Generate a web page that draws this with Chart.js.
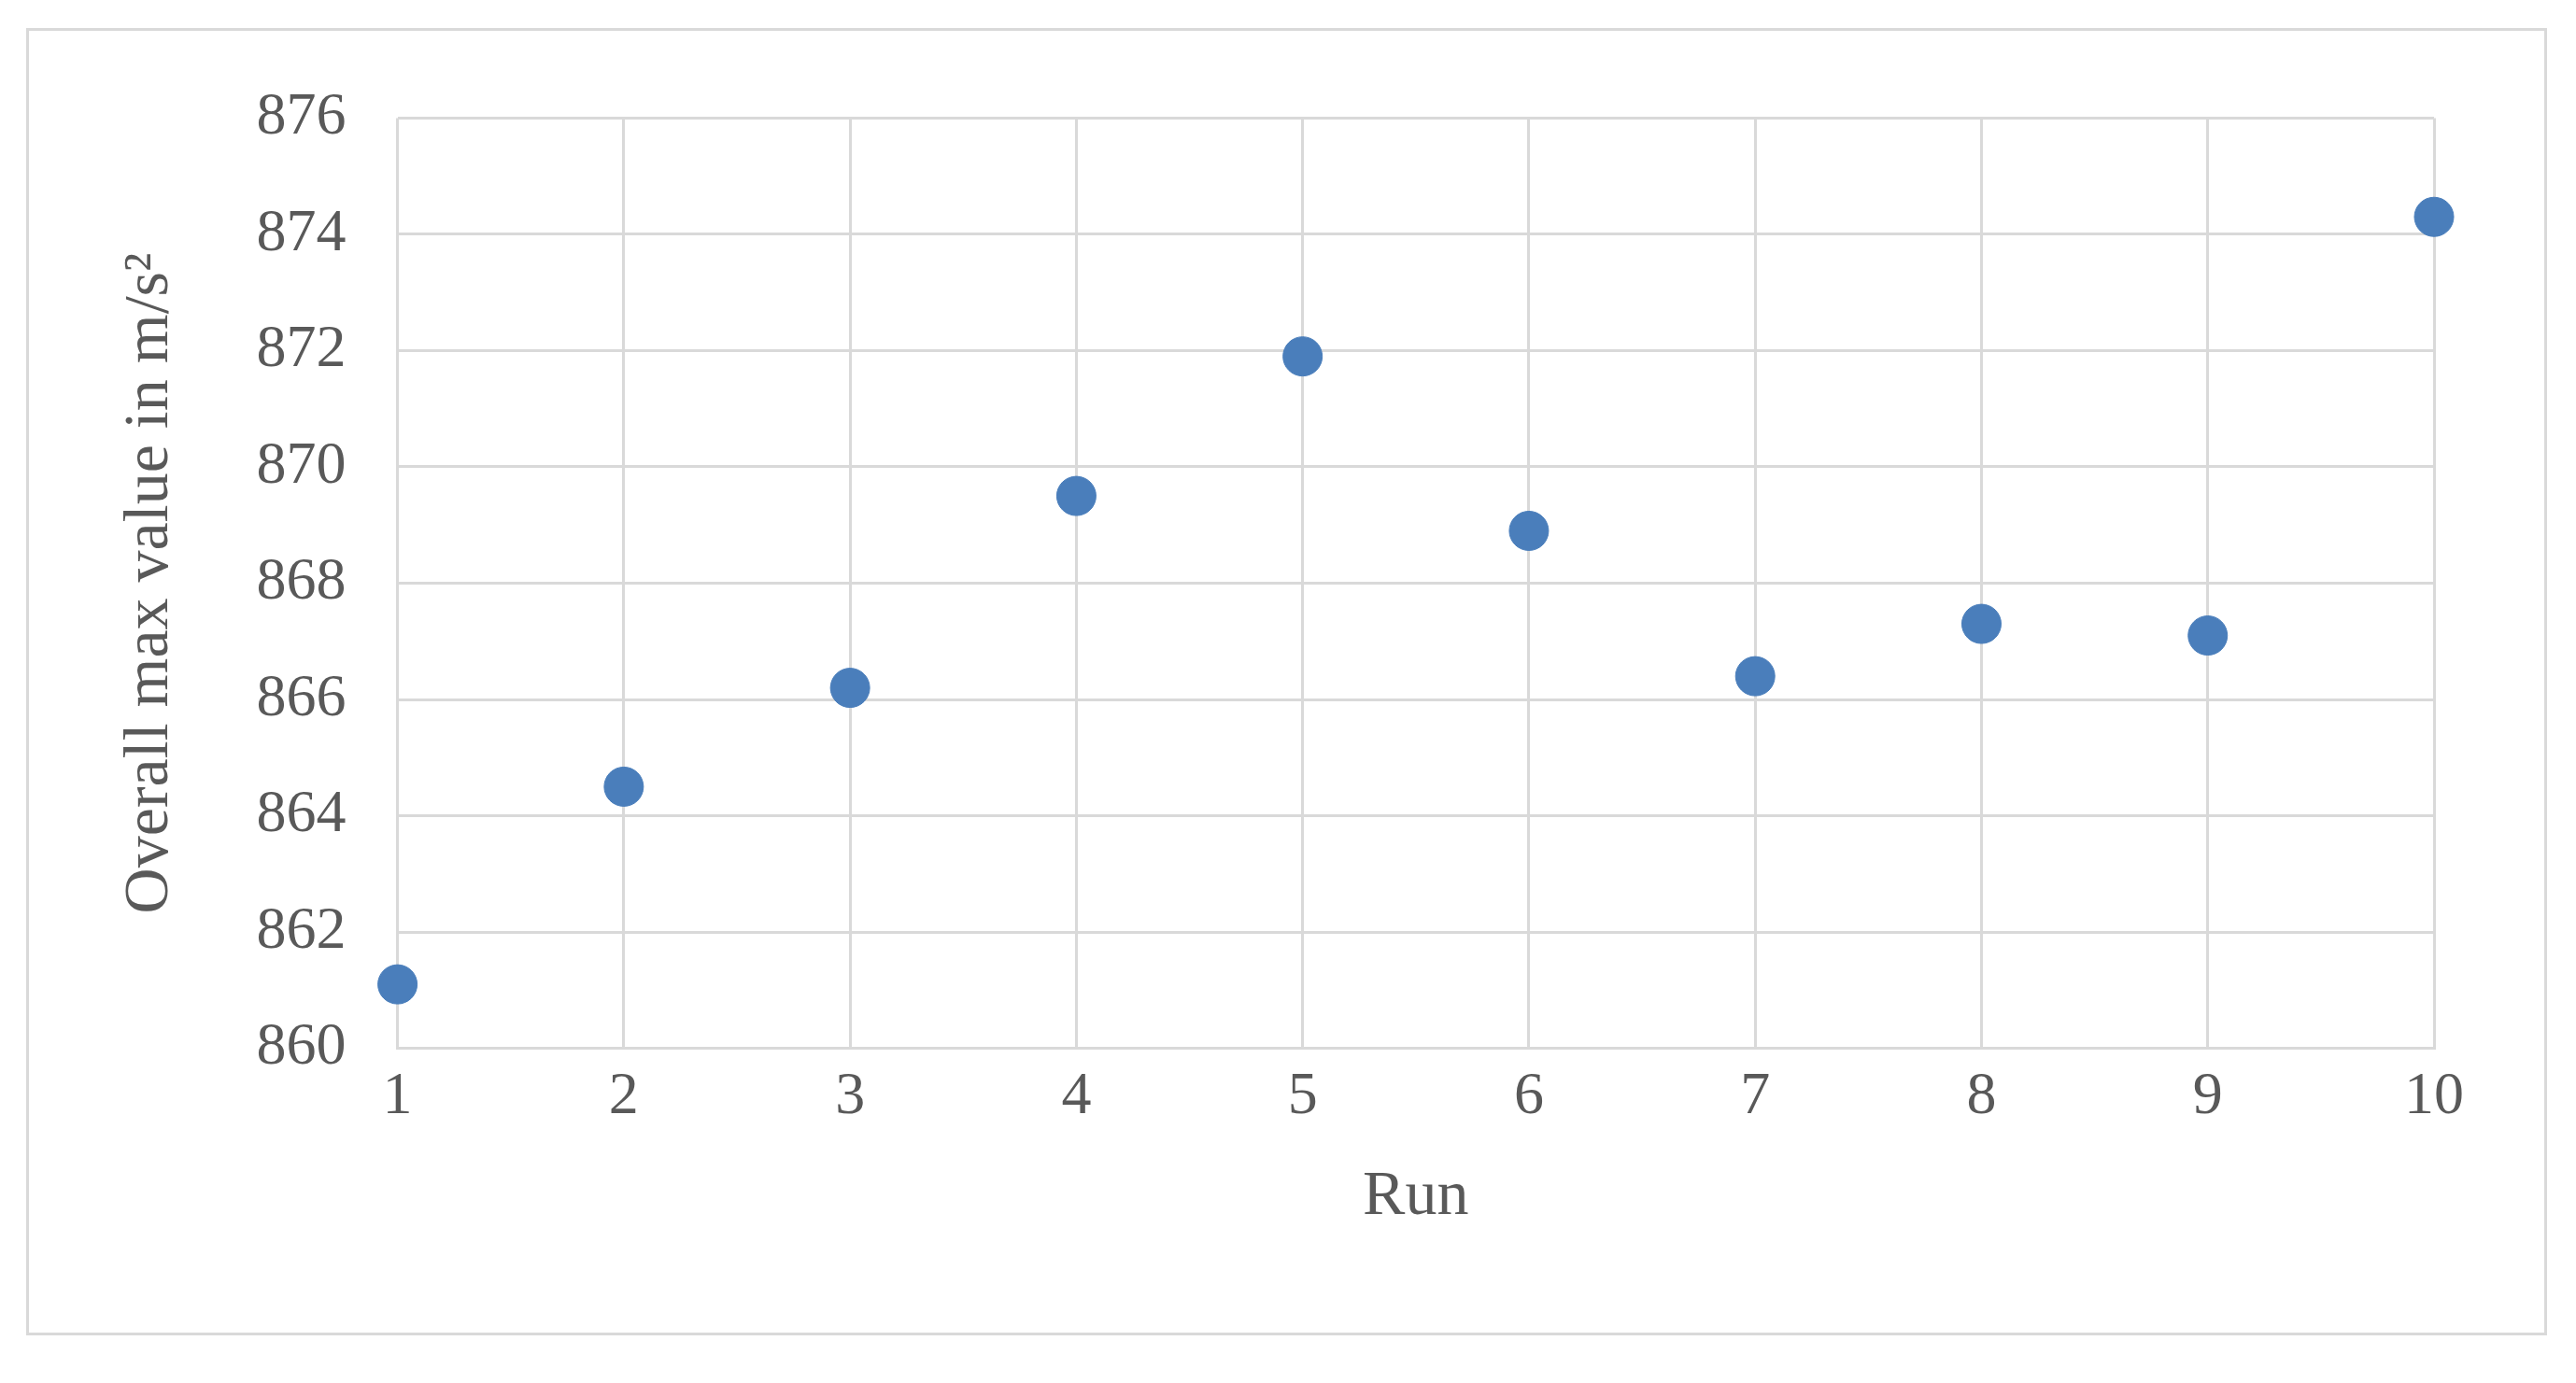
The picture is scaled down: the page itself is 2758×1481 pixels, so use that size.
<!DOCTYPE html>
<html>
<head>
<meta charset="utf-8">
<script src="https://cdn.jsdelivr.net/npm/chart.js@4/dist/chart.umd.min.js"></script>
<style>
  html, body { margin: 0; padding: 0; background: #fff; }
  #box { position: absolute; left: 28px; top: 30px; width: 2699px; height: 1400px; border: 3px solid #d9d9d9; box-sizing: border-box; }
  #wrap { position: absolute; left: 0; top: 0; width: 2693px; height: 1394px; }
</style>
</head>
<body>
<div id="box"><div id="wrap"><canvas id="chart"></canvas></div></div>
<script>
// Datos del gráfico
const runs = [1, 2, 3, 4, 5, 6, 7, 8, 9, 10];
const maxValues = [861.1, 864.5, 866.2, 869.5, 871.9, 868.9, 866.4, 867.3, 867.1, 874.3];
const yTicks = [860, 862, 864, 866, 868, 870, 872, 874, 876];

const font = { family: "'Liberation Serif', 'Times New Roman', serif", size: 64 };
const titleFont = { family: font.family, size: 68 };
const gridColor = '#d9d9d9';

new Chart(document.getElementById('chart').getContext('2d'), {
    type: 'scatter',
    data: {
        datasets: [{
            data: runs.map((r, i) => ({ x: r, y: maxValues[i] })),
            backgroundColor: '#4a7ebb',
            borderColor: '#4a7ebb',
            pointRadius: 21,
            pointHoverRadius: 21,
            clip: false
        }]
    },
    options: {
        responsive: true,
        maintainAspectRatio: false,
        animation: false,
        layout: { padding: { left: 85, right: 118, top: 76, bottom: 100 } },
        plugins: { legend: { display: false }, tooltip: { enabled: false } },
        scales: {
            x: {
                type: 'linear',
                min: 1, max: 10,
                ticks: { stepSize: 1, color: '#595959', font: font, padding: 14 },
                grid: { color: gridColor, lineWidth: 3, drawTicks: false },
                border: { color: gridColor, width: 3 },
                title: { display: true, text: 'Run', color: '#595959', font: titleFont, padding: { top: 14 } }
            },
            y: {
                min: 860, max: 876,
                afterBuildTicks: axis => { axis.ticks = yTicks.map(v => ({ value: v })); },
                ticks: { color: '#595959', font: font, padding: 55 },
                grid: { color: gridColor, lineWidth: 3, drawTicks: false },
                border: { display: false },
                title: { display: true, text: 'Overall max value in m/s²', color: '#595959', font: titleFont, padding: { bottom: 18 } }
            }
        }
    }
});
</script>
</body>
</html>
